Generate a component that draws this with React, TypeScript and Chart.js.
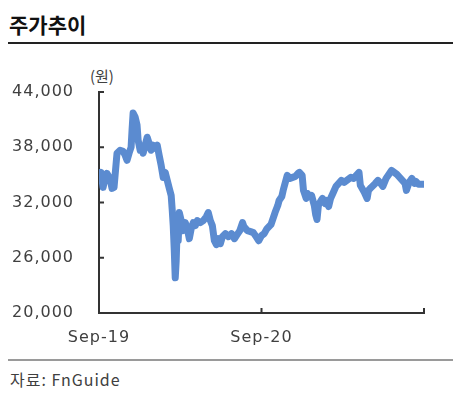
import React, { useEffect, useRef } from "react";
import { Chart, registerables } from "chart.js";

Chart.register(...registerables);

// months since Sep-2019
const months = [
  0, 0.15, 0.3, 0.44, 0.59, 0.81, 0.96, 1.11, 1.33, 1.56, 1.78, 1.93, 2.07, 2.22, 2.37, 2.44, 2.52, 2.67, 2.81, 2.89,
  3.04, 3.19, 3.26, 3.41, 3.56, 3.7, 3.85, 4.0, 4.15, 4.3, 4.44, 4.59, 4.74, 4.89, 5.04, 5.19, 5.33, 5.41, 5.48, 5.56,
  5.63, 5.7, 5.78, 5.85, 5.93, 6.07, 6.22, 6.37, 6.52, 6.67, 6.81, 6.96, 7.11, 7.26, 7.48, 7.7, 7.93, 8.07, 8.22, 8.37,
  8.52, 8.67, 8.81, 8.96, 9.11, 9.33, 9.56, 9.78, 10.0, 10.2, 10.4, 10.6, 10.7, 10.96, 11.19, 11.4, 11.6, 11.8, 12.0, 12.2,
  12.4, 12.7, 12.8, 13.0, 13.2, 13.3, 13.5, 13.6, 13.8, 13.9, 14.1, 14.3, 14.5, 14.7, 14.8, 15.0, 15.1, 15.3, 15.4, 15.6,
  15.7, 15.9, 16.0, 16.1, 16.2, 16.4, 16.5, 16.7, 16.8, 16.96, 17.1, 17.3, 17.5, 17.7, 17.9, 18.1, 18.4, 18.6, 18.8, 19.0,
  19.2, 19.3, 19.6, 19.8, 19.9, 20.1, 20.4, 20.6, 20.8, 20.96, 21.2, 21.4, 21.6, 21.8, 22.0, 22.2, 22.4, 22.6, 22.7, 22.9,
  23.1, 23.3, 23.4, 23.6, 23.8, 24.0,
];

const prices = [
  34400, 35270, 33640, 34600, 35160, 34600, 33530, 33640, 37350, 37670, 37560, 37130, 36580, 37350, 38000, 39850, 41710, 41270, 40400, 38760,
  37670, 38110, 37350, 38220, 39090, 38440, 37670, 38220, 37890, 38220, 37130, 36040, 34730, 35270, 34400, 33530, 32760, 31130, 29490, 26760,
  23820, 25670, 29490, 27850, 30910, 30040, 28950, 29820, 29160, 28070, 29160, 29820, 29490, 30040, 29820, 30040, 30470, 30910, 30040, 29490,
  27850, 27420, 28070, 27530, 28290, 28620, 28290, 28620, 28070, 28510, 28950, 29820, 29380, 28950, 28840, 28730, 28290, 27850, 28400, 28620,
  29160, 29600, 30040, 30910, 31670, 32220, 32650, 33310, 34400, 34950, 34620, 34730, 34840, 35160, 35270, 34950, 33310, 32440, 32980, 32650,
  32760, 31670, 30690, 30150, 31670, 32220, 32440, 31890, 32220, 31560, 32440, 33090, 33750, 34070, 34400, 34180, 34510, 34730, 34620, 34950,
  35270, 33860, 33090, 32440, 33310, 33640, 34070, 34400, 34070, 33750, 34620, 35050, 35490, 35270, 35050, 34730, 34400, 34070, 33310, 34180,
  34620, 34070, 34290, 33970, 33970, 33970,
];

const yTicks = [20000, 26000, 32000, 38000, 44000];
const xTickLabels: Record<number, string> = { 0: "Sep-19", 12: "Sep-20", 24: "" };

const TEXT = "#404040";
const AXIS = "#333333";
const LINE = "#5b8bd0";

export default function App() {
  const ref = useRef<HTMLCanvasElement>(null);

  useEffect(() => {
    const inwardTicks = {
      id: "inwardTicks",
      beforeDraw(chart: any) {
        chart.ctx.letterSpacing = "1px";
      },
      afterDraw(chart: any) {
        const { ctx, chartArea, scales } = chart;
        ctx.save();
        ctx.strokeStyle = AXIS;
        ctx.lineWidth = 2;
        ctx.beginPath();
        for (const v of yTicks) {
          const y = scales.y.getPixelForValue(v);
          ctx.moveTo(chartArea.left, y);
          ctx.lineTo(chartArea.left + 5, y);
        }
        for (const v of [12, 24]) {
          const x = scales.x.getPixelForValue(v);
          ctx.moveTo(x, chartArea.bottom);
          ctx.lineTo(x, chartArea.bottom - 5);
        }
        ctx.stroke();
        ctx.restore();
      },
    };

    const chart = new Chart(ref.current!, {
      type: "line",
      data: {
        datasets: [
          {
            data: months.map((m, i) => ({ x: m, y: prices[i] })),
            borderColor: LINE,
            borderWidth: 7,
            pointRadius: 0,
            tension: 0,
            borderJoinStyle: "round",
            borderCapStyle: "round",
          },
        ],
      },
      options: {
        animation: false,
        responsive: false,
        maintainAspectRatio: false,
        layout: { padding: { top: 42, right: 41, left: 0, bottom: 0 } },
        plugins: { legend: { display: false }, tooltip: { enabled: false } },
        scales: {
          x: {
            type: "linear",
            min: 0,
            max: 24,
            afterFit: (s: any) => {
              s.height = 37;
            },
            afterBuildTicks: (s: any) => {
              s.ticks = [0, 12, 24].map((v) => ({ value: v }));
            },
            grid: { display: false, drawTicks: false },
            border: { display: true, color: AXIS, width: 2 },
            ticks: {
              padding: 15,
              color: TEXT,
              font: { family: "DejaVu Sans", size: 16 },
              maxRotation: 0,
              autoSkip: false,
              callback: (v: any) => xTickLabels[v as number] ?? "",
            },
          },
          y: {
            min: 20000,
            max: 44000,
            afterFit: (s: any) => {
              s.width = 99;
            },
            afterBuildTicks: (s: any) => {
              s.ticks = yTicks.map((v) => ({ value: v }));
            },
            grid: { display: false, drawTicks: false },
            border: { display: true, color: AXIS, width: 2 },
            ticks: {
              padding: 25,
              color: TEXT,
              font: { family: "DejaVu Sans", size: 16 },
              callback: (v: any) => Number(v).toLocaleString("en-US"),
            },
          },
        },
      },
      plugins: [inwardTicks],
    });
    return () => chart.destroy();
  }, []);

  return (
    <div
      style={{
        position: "fixed",
        left: 0,
        top: 0,
        width: 465,
        height: 396,
        background: "#fff",
        overflow: "hidden",
      }}
    >
      <div
        style={{
          position: "absolute",
          left: 9,
          top: 9,
          fontFamily: "'Noto Sans CJK KR'",
          fontWeight: 700,
          fontSize: 21,
          lineHeight: "30px",
          color: "#111",
        }}
      >
        주가추이
      </div>
      <div style={{ position: "absolute", left: 8, top: 42, width: 445, height: 2, background: "#222" }} />
      <div
        style={{
          position: "absolute",
          left: 90,
          top: 64,
          fontFamily: "'Noto Sans CJK KR'",
          fontSize: 15,
          lineHeight: "24px",
          color: TEXT,
        }}
      >
        (원)
      </div>
      <canvas ref={ref} width={465} height={300} style={{ position: "absolute", left: 0, top: 50, width: 465, height: 300 }} />
      <div style={{ position: "absolute", left: 8, top: 359, width: 445, height: 2, background: "#9a9a9a" }} />
      <div
        style={{
          position: "absolute",
          left: 10,
          top: 366,
          fontFamily: "'Noto Sans CJK KR'",
          fontSize: 16,
          lineHeight: "26px",
          letterSpacing: "1px",
          color: TEXT,
        }}
      >
        자료: FnGuide
      </div>
    </div>
  );
}
